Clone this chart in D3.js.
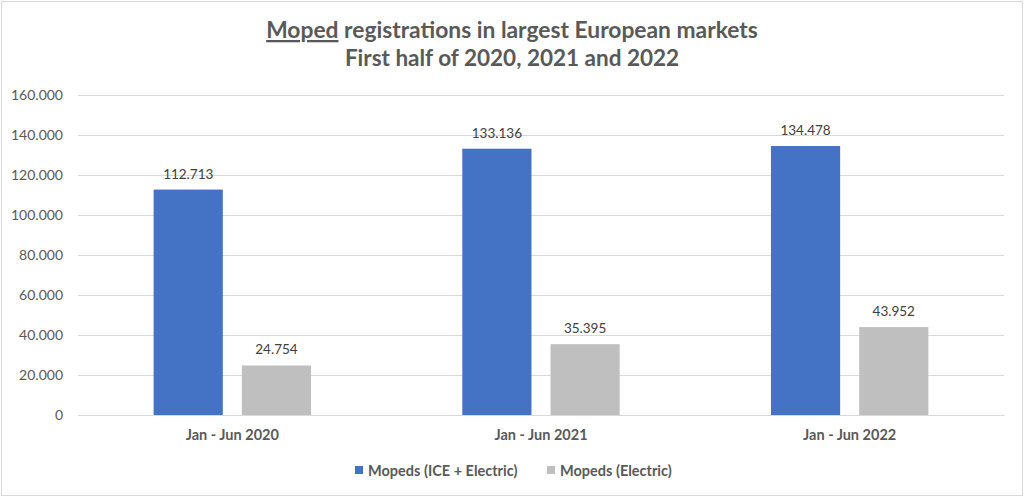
<!DOCTYPE html>
<html><head><meta charset="utf-8">
<script src="https://cdn.jsdelivr.net/npm/d3@7"></script>
<style>body{margin:0;background:#fff}svg{display:block}text{font-family:Lato,"Open Sans",sans-serif}</style>
</head><body><svg id="c" width="1024" height="497"></svg>
<script>
const categories = ["Jan - Jun 2020", "Jan - Jun 2021", "Jan - Jun 2022"];
const seriesNames = ["Mopeds (ICE + Electric)", "Mopeds (Electric)"];
const iceElectric = [112713, 133136, 134478];
const electric = [24754, 35395, 43952];
const yTicks = [0, 20000, 40000, 60000, 80000, 100000, 120000, 140000, 160000];
const colors = ["#4472C4", "#BFBFBF"];

const svg = d3.select("#c");
const W = 1024, H = 497;
svg.append("rect").attr("x",1.5).attr("y",1.5).attr("width",W-3).attr("height",H-3).attr("fill","#fff").attr("stroke","#d9d9d9");

const m = {left:78, right:1004, top:95, bottom:415};
const x0 = d3.scaleBand().domain(categories).range([m.left, m.right]).padding(0);
const bw = x0.bandwidth();
const inner = bw*0.51;
const x1 = d3.scaleBand().domain(seriesNames).range([(bw-inner)/2, (bw+inner)/2]).paddingInner(0.216).paddingOuter(0);
const y = d3.scaleLinear().domain([0,160000]).range([m.bottom, m.top]);
const fmt = v => d3.format(",")(v).replace(/,/g, ".");

// grid
const yAxis = d3.axisLeft(y).tickValues(yTicks).tickSize(-(m.right-m.left)).tickFormat(fmt).tickPadding(15);
const ga = svg.append("g").attr("transform",`translate(${m.left},0)`).call(yAxis);
ga.select(".domain").remove();
ga.selectAll("line").attr("stroke","#d9d9d9").attr("stroke-width",1);
ga.selectAll("text").attr("fill","#595959").style("font-size","14px");

const data = categories.map((c,i)=>({cat:c, vals:[iceElectric[i], electric[i]]}));
const g = svg.append("g").selectAll("g").data(data).join("g").attr("transform",d=>`translate(${x0(d.cat)},0)`);
g.selectAll("rect").data(d=>d.vals.map((v,j)=>({s:seriesNames[j],v,j}))).join("rect")
  .attr("x",d=>x1(d.s)).attr("width",x1.bandwidth())
  .attr("y",d=>y(d.v)).attr("height",d=>y(0)-y(d.v)).attr("fill",d=>colors[d.j]);
g.selectAll("text.v").data(d=>d.vals.map((v,j)=>({s:seriesNames[j],v,j}))).join("text").attr("class","v")
  .attr("x",d=>x1(d.s)+x1.bandwidth()/2).attr("y",d=>y(d.v)-11).attr("text-anchor","middle")
  .attr("fill","#404040").style("font-size","13.5px").text(d=>fmt(d.v));

// x axis
const xa = svg.append("g").attr("transform",`translate(0,${m.bottom})`).call(d3.axisBottom(x0).tickSize(0).tickPadding(15));
xa.select(".domain").attr("stroke","#d9d9d9");
xa.selectAll("text").attr("fill","#595959").style("font-size","14.5px").style("font-weight","bold");

// title
const t = svg.append("text").attr("x",512).attr("y",38).attr("text-anchor","middle").attr("fill","#595959").style("font-size","22.8px").style("font-weight","bold");
t.append("tspan").attr("text-decoration","underline").text("Moped");
t.append("tspan").text(" registrations in largest European markets");
svg.append("text").attr("x",512).attr("y",66).attr("text-anchor","middle").attr("fill","#595959").style("font-size","22.5px").style("font-weight","bold").text("First half of 2020, 2021 and 2022");

// legend
const legX = [355, 547];
const lg = svg.append("g").selectAll("g").data(seriesNames).join("g").attr("transform",(d,i)=>`translate(${legX[i]},466)`);
lg.append("rect").attr("width",8).attr("height",8).attr("y",0).attr("fill",(d,i)=>colors[i]);
lg.append("text").attr("x",13).attr("y",9.5).attr("fill","#595959").style("font-size","14.5px").style("font-weight","bold").text(d=>d);
</script></body></html>
